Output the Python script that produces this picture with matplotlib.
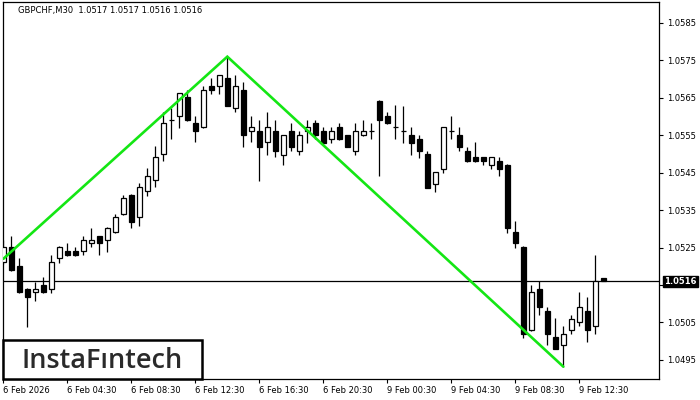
import matplotlib
matplotlib.use('Agg')
import matplotlib.pyplot as plt
import numpy as np
from matplotlib.patches import Rectangle

# ---- data (GBPCHF, M30) ----
opens = [1.05211, 1.05251, 1.05200, 1.05140, 1.05131, 1.05149, 1.05139, 1.05222, 1.05241, 1.05241,
         1.05240, 1.05262, 1.05280, 1.05270, 1.05291, 1.05339, 1.05391, 1.05331, 1.05400, 1.05430,
         1.05499, 1.05590, 1.05601, 1.05652, 1.05582, 1.05571, 1.05681, 1.05681, 1.05703, 1.05622,
         1.05670, 1.05561, 1.05561, 1.05531, 1.05561, 1.05498, 1.05561, 1.05509, 1.05561, 1.05582,
         1.05561, 1.05539, 1.05571, 1.05550, 1.05509, 1.05550, 1.05561, 1.05641, 1.05601, 1.05571,
         1.05561, 1.05550, 1.05539, 1.05499, 1.05421, 1.05461, 1.05561, 1.05550, 1.05509, 1.05491,
         1.05491, 1.05470, 1.05481, 1.05470, 1.05292, 1.05252, 1.05029, 1.05139, 1.05081, 1.05010,
         1.04989, 1.05029, 1.05051, 1.05081, 1.05040, 1.05170]
highs = [1.05270, 1.05281, 1.05222, 1.05142, 1.05159, 1.05172, 1.05230, 1.05253, 1.05262, 1.05251,
         1.05281, 1.05302, 1.05282, 1.05304, 1.05340, 1.05391, 1.05393, 1.05423, 1.05462, 1.05521,
         1.05612, 1.05622, 1.05664, 1.05671, 1.05602, 1.05682, 1.05702, 1.05712, 1.05760, 1.05710,
         1.05692, 1.05602, 1.05590, 1.05611, 1.05590, 1.05552, 1.05582, 1.05561, 1.05591, 1.05591,
         1.05571, 1.05571, 1.05582, 1.05552, 1.05582, 1.05591, 1.05582, 1.05643, 1.05611, 1.05632,
         1.05627, 1.05571, 1.05550, 1.05509, 1.05453, 1.05573, 1.05601, 1.05571, 1.05520, 1.05531,
         1.05493, 1.05493, 1.05491, 1.05472, 1.05320, 1.05254, 1.05150, 1.05160, 1.05091, 1.05061,
         1.05040, 1.05069, 1.05131, 1.05119, 1.05230, 1.05170]
lows = [1.05205, 1.05188, 1.05129, 1.05039, 1.05108, 1.05129, 1.05130, 1.05210, 1.05228, 1.05228,
        1.05230, 1.05251, 1.05229, 1.05239, 1.05289, 1.05337, 1.05302, 1.05309, 1.05389, 1.05411,
        1.05480, 1.05539, 1.05570, 1.05588, 1.05531, 1.05569, 1.05661, 1.05661, 1.05627, 1.05611,
        1.05520, 1.05531, 1.05429, 1.05498, 1.05491, 1.05470, 1.05509, 1.05498, 1.05530, 1.05539,
        1.05528, 1.05530, 1.05537, 1.05518, 1.05498, 1.05548, 1.05539, 1.05441, 1.05580, 1.05539,
        1.05530, 1.05498, 1.05489, 1.05408, 1.05399, 1.05450, 1.05539, 1.05509, 1.05478, 1.05478,
        1.05470, 1.05461, 1.05441, 1.05290, 1.05250, 1.05009, 1.05027, 1.05069, 1.04989, 1.04978,
        1.04932, 1.05020, 1.05040, 1.04999, 1.05020, 1.05160]
closes = [1.05251, 1.05190, 1.05131, 1.05119, 1.05140, 1.05131, 1.05211, 1.05251, 1.05230, 1.05230,
          1.05270, 1.05270, 1.05262, 1.05302, 1.05331, 1.05382, 1.05319, 1.05411, 1.05441, 1.05491,
          1.05582, 1.05590, 1.05662, 1.05590, 1.05561, 1.05670, 1.05670, 1.05710, 1.05629, 1.05681,
          1.05550, 1.05571, 1.05520, 1.05571, 1.05509, 1.05550, 1.05520, 1.05550, 1.05571, 1.05550,
          1.05530, 1.05561, 1.05539, 1.05520, 1.05561, 1.05561, 1.05561, 1.05590, 1.05582, 1.05571,
          1.05561, 1.05530, 1.05509, 1.05410, 1.05451, 1.05571, 1.05561, 1.05520, 1.05480, 1.05480,
          1.05480, 1.05491, 1.05461, 1.05301, 1.05261, 1.05020, 1.05131, 1.05091, 1.05020, 1.04980,
          1.05020, 1.05060, 1.05091, 1.05029, 1.05160, 1.05160]

pattern_bars = [0, 28, 70]
pattern_prices = [1.05220, 1.05760, 1.04932]

current_price = 1.0516
y_ticks = [1.0495, 1.0505, 1.0515, 1.0525, 1.0535, 1.0545, 1.0555, 1.0565, 1.0575, 1.0585]
x_tick_bars = [0, 8, 16, 24, 32, 40, 48, 56, 64, 72]
x_tick_labels = ["6 Feb 2026", "6 Feb 04:30", "6 Feb 08:30", "6 Feb 12:30", "6 Feb 16:30",
                 "6 Feb 20:30", "9 Feb 00:30", "9 Feb 04:30", "9 Feb 08:30", "9 Feb 12:30"]
title = "GBPCHF,M30  1.0517 1.0517 1.0516 1.0516"

# ---- figure ----
fig = plt.figure(figsize=(7, 4), dpi=100)
ax = fig.add_axes([3 / 700, 21 / 400, 656 / 700, 377 / 400])

o = np.array(opens); h = np.array(highs); l = np.array(lows); c = np.array(closes)
x = np.arange(len(o))
body_w = 0.62
up = c > o
down = c < o
doji = ~(up | down)
bottom = np.minimum(o, c)
height = np.abs(c - o)

ax.vlines(x, l, h, color='black', lw=0.9, zorder=2)
ax.bar(x[up], height[up], bottom=bottom[up], width=body_w, facecolor='white',
       edgecolor='black', lw=0.9, zorder=3)
ax.bar(x[down], height[down], bottom=bottom[down], width=body_w, facecolor='black',
       edgecolor='black', lw=0.9, zorder=3)
ax.hlines(o[doji], x[doji] - body_w / 2, x[doji] + body_w / 2, color='black', lw=0.9, zorder=4)

# pattern line
ax.plot(pattern_bars, pattern_prices, color='#14e614', lw=1.9, zorder=5,
        solid_capstyle='round', solid_joinstyle='miter')

# current price line
ax.axhline(current_price, color='black', lw=0.9, zorder=1)

ax.set_xlim(-0.04, 81.96)
ax.set_ylim(1.04899, 1.05906)

ax.yaxis.tick_right()
ax.set_yticks(y_ticks)
# the 1.0515 label is hidden behind the current-price box
ax.set_yticklabels(["" if abs(v - 1.0515) < 1e-9 else f"{v:.4f}" for v in y_ticks])
ax.set_xticks(x_tick_bars)
ax.set_xticklabels(x_tick_labels)
for lab in ax.get_xticklabels():
    lab.set_ha('left')
ax.tick_params(axis='both', direction='out', length=3, width=0.8, labelsize=6,
               colors='black', pad=2)
ax.tick_params(axis='y', pad=3)
for s in ax.spines.values():
    s.set_linewidth(0.9)
    s.set_color('black')

# current price label
ax.annotate(f"{current_price:.4f}", xy=(1.0, current_price), xycoords=('axes fraction', 'data'),
            xytext=(3.5, 0), textcoords='offset points', ha='left', va='center',
            fontsize=6, color='white', fontweight='bold', zorder=10, annotation_clip=False,
            bbox=dict(boxstyle='square,pad=0.15', fc='black', ec='black'))

# title
fig.text(18 / 700, 1 - 11 / 400, title, fontsize=6, color='black', ha='left', va='center')

# logo box
fig.patches.append(Rectangle((3 / 700, 21 / 400), 199 / 700, 39 / 400, transform=fig.transFigure,
                             facecolor='white', edgecolor='black', lw=1.8, zorder=20))
fig.text(102 / 700, 1 - 368.5 / 400, "InstaF\u0131ntech", fontsize=19.5, family='Open Sans',
         fontweight='semibold', color='#2a2a2a', ha='center', va='baseline', zorder=21)

fig.savefig('out.png', dpi=100)
